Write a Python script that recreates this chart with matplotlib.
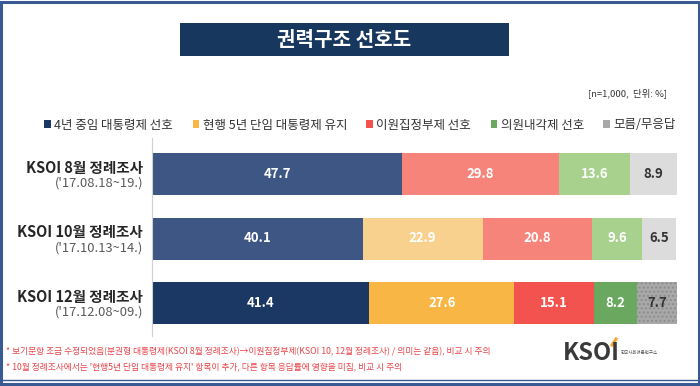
import matplotlib
matplotlib.use("Agg")
import matplotlib.pyplot as plt
from matplotlib.patches import Rectangle, Patch
from matplotlib.lines import Line2D

plt.rcParams['font.family'] = ['Noto Sans CJK KR', 'DejaVu Sans']
plt.rcParams['hatch.color'] = "#8c8c8c"

W, H = 700, 386
categories = ["KSOI 8월 정례조사", "KSOI 10월 정례조사", "KSOI 12월 정례조사"]
dates = ["('17.08.18~19.)", "('17.10.13~14.)", "('17.12.08~09.)"]
series_names = ["4년 중임 대통령제 선호", "현행 5년 단임 대통령제 유지", "이원집정부제 선호",
                "의원내각제 선호", "모름/무응답"]
s_4yr = [47.7, 40.1, 41.4]
s_5yr = [0.0, 22.9, 27.6]
s_dual = [29.8, 20.8, 15.1]
s_parl = [13.6, 9.6, 8.2]
s_dk = [8.9, 6.5, 7.7]
values = [s_4yr, s_5yr, s_dual, s_parl, s_dk]

faded = ["#3d5684", "#f9d18f", "#f6847b", "#a9d18e", "#dcdcdc"]
full = ["#1b3764", "#f8b645", "#f2534f", "#6aa75f", "#a8a8a8"]
legend_colors = ["#1b3764", "#f8b645", "#f2534f", "#6aa75f", "#a8a8a8"]

fig = plt.figure(figsize=(W / 100, H / 100), dpi=100)

def fx(px):
    return px / W

def fy(py):
    return 1 - py / H

# frame
fig.patches.append(Rectangle((0.002, 0.004), 0.996, 0.992, transform=fig.transFigure,
                             fill=False, edgecolor="#3a5a94", linewidth=2.2))
fig.patches.append(Rectangle((0.002, 0.004), 0.996, fy(380) - 0.004, transform=fig.transFigure,
                             fill=False, edgecolor="#3a5a94", linewidth=1.0))

# title box
fig.patches.append(Rectangle((fx(180), fy(56)), fx(329), (56 - 23) / H, transform=fig.transFigure,
                             facecolor="#17375e", edgecolor="none"))
fig.text(fx(344), fy(40), "권력구조 선호도", color="white", fontsize=14.5, fontweight="bold",
         ha="center", va="center")

fig.text(fx(667), fy(93), "[n=1,000,  단위: %]", fontsize=6.8, ha="right", va="center", color="#333333")

# axes
top_px, bot_px = 138, 336
ax = fig.add_axes([fx(152), fy(bot_px), fx(677) - fx(152), (bot_px - top_px) / H])
unit = 64.5
ax.set_ylim(2 + (bot_px - 303) / unit, 0 - (174 - top_px) / unit)
ax.set_xlim(0, 100)
ypos = [0, 1, 2]
bh = 42 / unit
for i in ypos:
    left = 0.0
    for k, vals in enumerate(values):
        v = vals[i]
        if v <= 0:
            continue
        col = full[k] if i == 2 else faded[k]
        hatch = "...." if (i == 2 and k == 4) else None
        ax.barh(i, v, left=left, height=bh, color=col, edgecolor=("#8c8c8c" if hatch else "none"),
                linewidth=0, hatch=hatch)
        tc = "#333333" if k == 4 else "white"
        ax.text(left + v / 2, i, f"{v:.1f}", ha="center", va="center", color=tc,
                fontsize=9.5, fontweight="bold")
        left += v
for s in ["top", "right", "bottom"]:
    ax.spines[s].set_visible(False)
ax.spines["left"].set_color("#d0d0d0")
ax.spines["left"].set_linewidth(0.8)
ax.set_xticks([])
ax.set_yticks([])

xoff = -9 / 5.25
for i in ypos:
    ax.text(xoff, i - 6 / unit, categories[i], ha="right", va="center",
            fontsize=10.5, fontweight="bold", color="#262626")
    ax.text(xoff, i + 9.5 / unit, dates[i], ha="right", va="center",
            fontsize=9.3, color="#595959")

handles = [Patch(facecolor=c, edgecolor="none") for c in legend_colors]
fig.legend(handles, series_names, loc="center", bbox_to_anchor=(fx(360), fy(125)), ncol=5,
           frameon=False, fontsize=9, handlelength=0.55, handleheight=0.55, handletextpad=0.25,
           columnspacing=1.55, labelcolor="#333333")

fig.text(fx(6), fy(352), "* 보기문항 조금 수정되었음(분권형 대통령제(KSOI 8월 정례조사)→이원집정부제(KSOI 10, 12월 정례조사) / 의미는 같음), 비교 시 주의",
         fontsize=6.3, color="#e8444a", ha="left", va="center")
fig.text(fx(6), fy(367), "* 10월 정례조사에서는 '현행5년 단임 대통령제 유지' 항목이 추가, 다른 항목 응답률에 영향을 미침, 비교 시 주의",
         fontsize=6.3, color="#e8444a", ha="left", va="center")

fig.text(fx(563), fy(353), "KSOI", fontsize=17, fontweight="bold", color="#3a3a3a", ha="left", va="center")
fig.add_artist(Line2D([fx(612), fx(616)], [fy(345), fy(339)], transform=fig.transFigure,
                      color="#f0a830", linewidth=2.2))
fig.text(fx(621), fy(353), "한국사회여론연구소", fontsize=3.2, color="#555555", ha="left", va="center")

fig.savefig("out.png", dpi=100)
